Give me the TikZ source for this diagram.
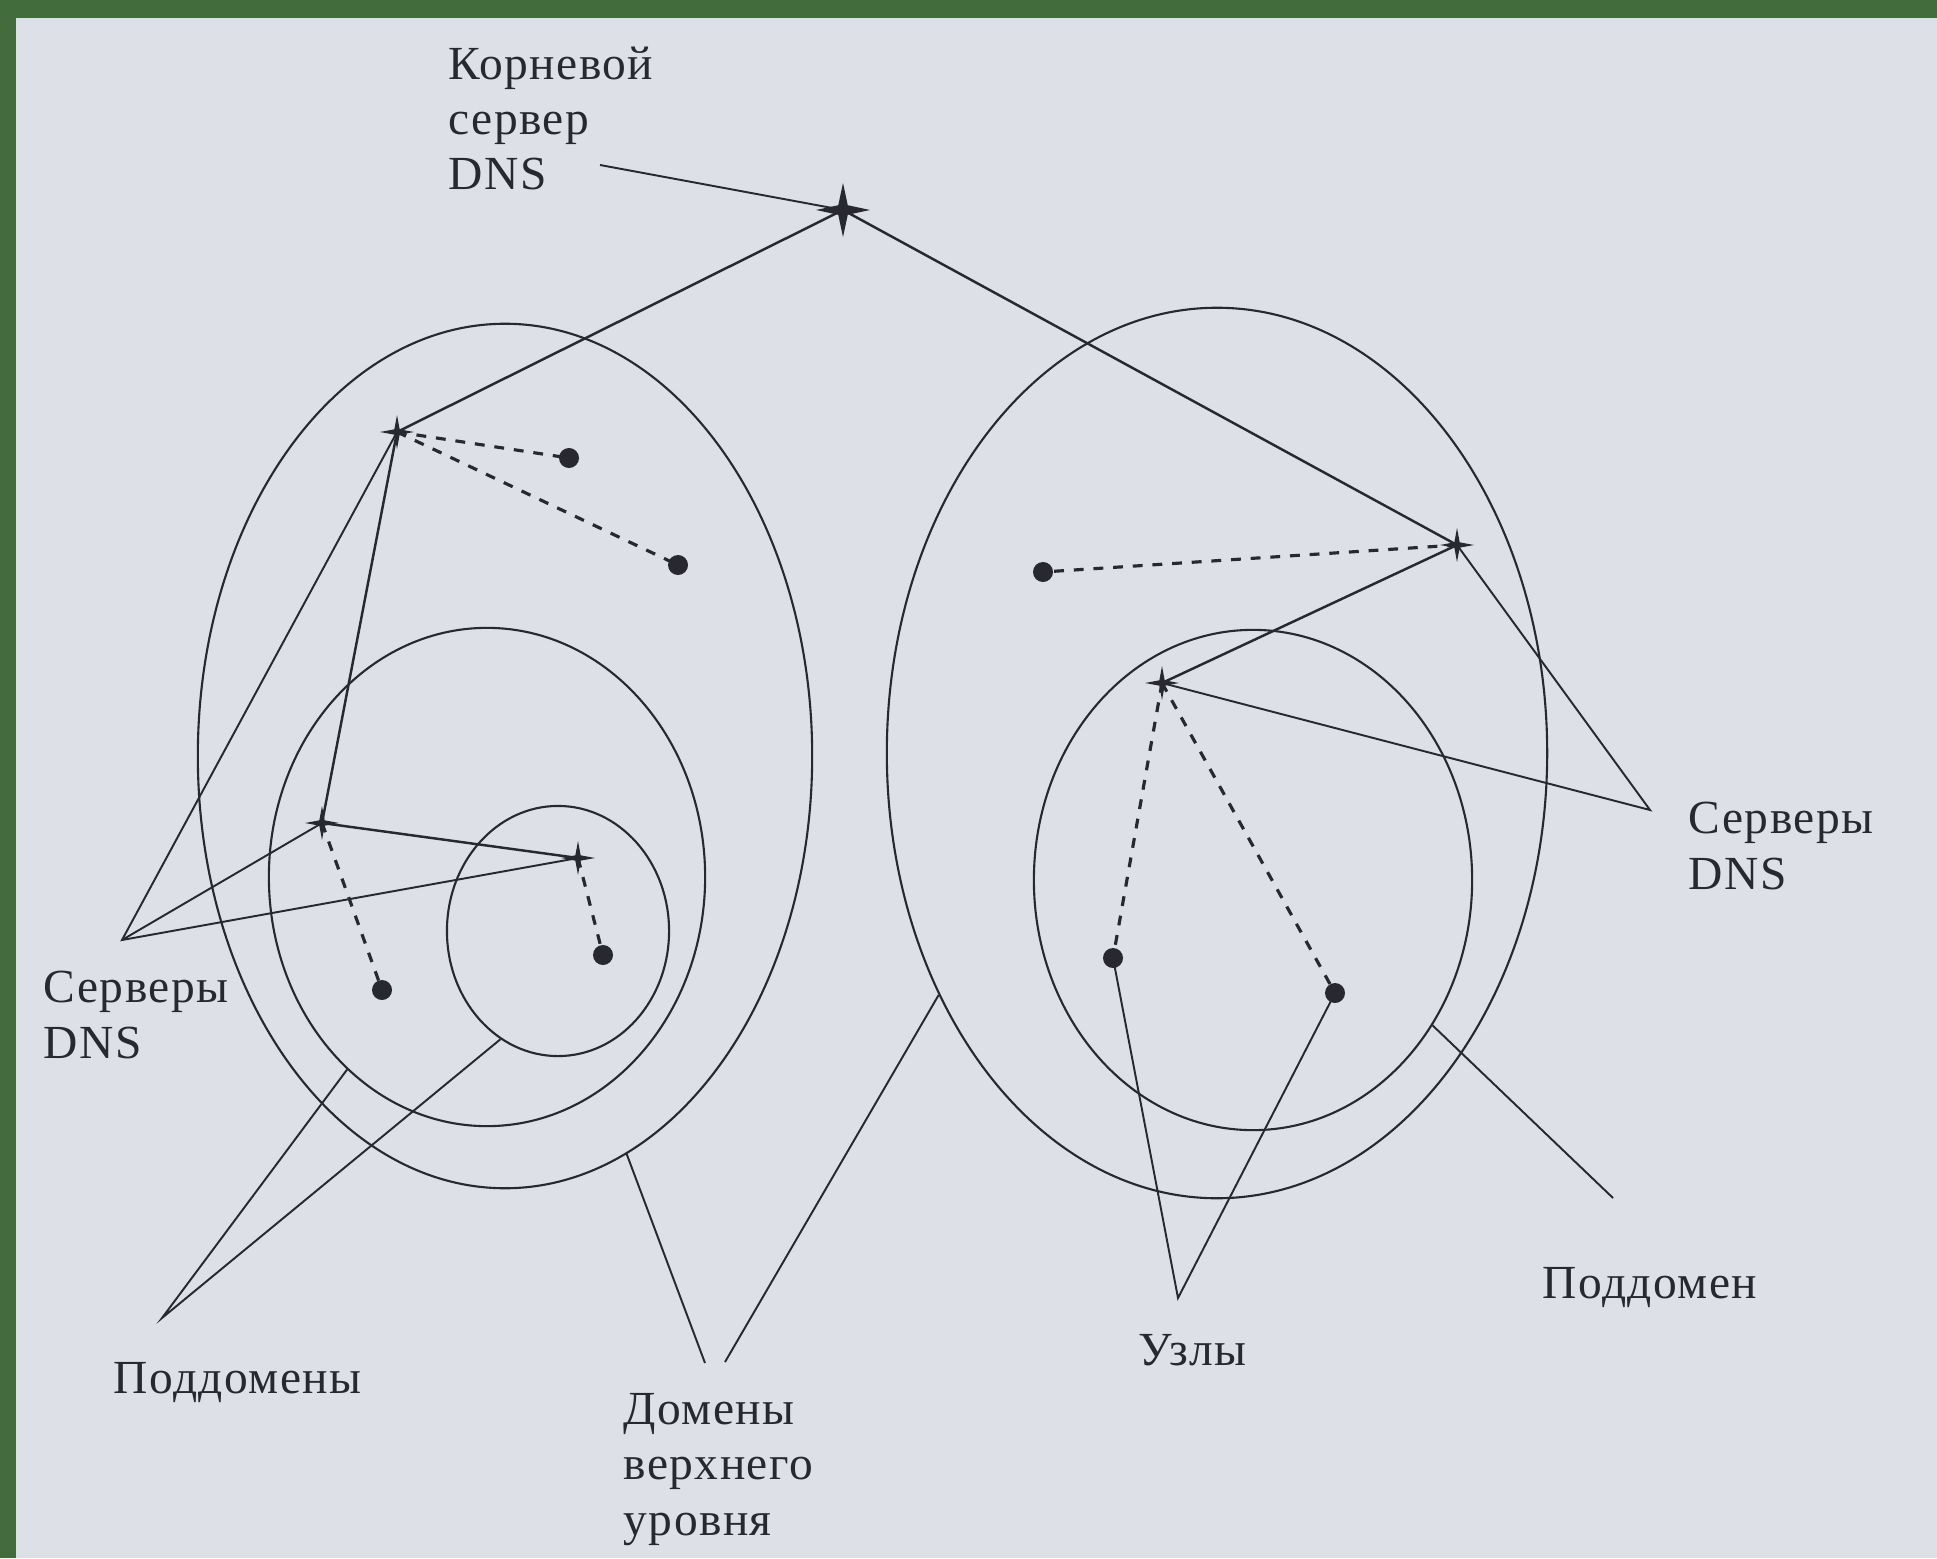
\documentclass[tikz,border=0pt]{standalone}
\usepackage{fontspec}
\setmainfont{Liberation Serif}
\newfontfamily\lblfont[LetterSpace=3]{Liberation Serif}
\usetikzlibrary{shapes.geometric}
\definecolor{bord}{RGB}{66,108,60}
\definecolor{paper}{RGB}{221,224,231}
\definecolor{ink}{RGB}{40,40,48}
\begin{document}
\begin{tikzpicture}[x=0.01cm,y=-0.01cm,
  lbl/.style={font=\lblfont\fontsize{13.5}{15.7}\selectfont, text=ink, inner sep=0pt, align=left, anchor=base west},
  srv/.style={star, star points=4, star point ratio=4.5, fill=ink, draw=none, inner sep=0pt, minimum size=0.34cm},
  rootsrv/.style={srv, star point ratio=4, minimum size=0.54cm},
  host/.style={circle, fill=ink, inner sep=0pt, minimum size=0.2cm},
  zone/.style={ellipse, draw=ink, line width=0.6pt, inner sep=0pt},
  link/.style={draw=ink, line width=0.7pt},
  dlink/.style={draw=ink, line width=0.9pt, dash pattern=on 2.8pt off 2.8pt},
  ptr/.style={draw=ink, line width=0.55pt}]
\fill[bord] (0,0) rectangle (1937,1558);
\fill[paper] (16,18) rectangle (1937,1558);
\useasboundingbox (0,0) rectangle (1937,1558);

% zones
\node[zone, minimum width=6.14cm, minimum height=8.64cm] (LB) at (505,756) {};
\node[zone, minimum width=4.36cm, minimum height=4.98cm] (LM) at (487,877) {};
\node[zone, minimum width=2.22cm, minimum height=2.50cm] (LS) at (558,931) {};
\node[zone, minimum width=6.60cm, minimum height=8.90cm] (RB) at (1217,753) {};
\node[zone, minimum width=4.38cm, minimum height=5.00cm] (RI) at (1253,880) {};

% servers
\node[rootsrv] (root) at (843,210) {};
\node[srv] (L1) at (397,432) {};
\node[srv] (L2) at (322,823) {};
\node[srv] (L3) at (578,858) {};
\node[srv] (R1) at (1457,545) {};
\node[srv] (R2) at (1162,683) {};

% hosts
\node[host] (h1) at (569,458) {};
\node[host] (h2) at (678,565) {};
\node[host] (h3) at (382,990) {};
\node[host] (h4) at (603,955) {};
\node[host] (h5) at (1043,572) {};
\node[host] (h6) at (1113,958) {};
\node[host] (h7) at (1335,993) {};

% labels (anchor = baseline of the last line)
\node[lbl] (tRoot) at (448,190) {Корневой\\сервер\\DNS};
\node[lbl] (tSrvL) at (43,1058) {Серверы\\DNS};
\node[lbl] (tSub) at (113,1393) {Поддомены};
\node[lbl] (tTop) at (623,1535) {Домены\\верхнего\\уровня};
\node[lbl] (tSrvR) at (1688,889) {Серверы\\DNS};
\node[lbl] (tHost) at (1138,1365) {Узлы};
\node[lbl] (tSub1) at (1542,1298) {Поддомен};

% pointer ends
\coordinate (pRoot) at (600,165);
\coordinate (pSrvL) at (122,940);
\coordinate (pSrvR) at (1650,810);
\coordinate (pSub) at (162,1318);
\coordinate (pTopA) at (705,1363);
\coordinate (pTopB) at (725,1362);
\coordinate (pHost) at (1178,1298);
\coordinate (pSub1) at (1613,1198);

% hierarchy links
\path[link] (root.center) -- (L1.center);
\path[link] (root.center) -- (R1.center);
\path[link] (L1.center) -- (L2.center);
\path[link] (L2.center) -- (L3.center);
\path[link] (R1.center) -- (R2.center);

% host links
\path[dlink] (L1.center) -- (h1.center);
\path[dlink] (L1.center) -- (h2.center);
\path[dlink] (L2.center) -- (h3.center);
\path[dlink] (L3.center) -- (h4.center);
\path[dlink] (R1.center) -- (h5.center);
\path[dlink] (R2.center) -- (h6.center);
\path[dlink] (R2.center) -- (h7.center);

% label pointers
\path[ptr] (pRoot) -- (root.center);
\path[ptr] (L1.center) -- (pSrvL) -- (L3.center);
\path[ptr] (pSrvL) -- (L2.center);
\path[ptr] (R1.center) -- (pSrvR) -- (R2.center);
\path[ptr] (LM.234) -- (pSub) -- (LS.242);
\path[ptr] (LB.287) -- (pTopA);
\path[ptr] (RB.221) -- (pTopB);
\path[ptr] (h6.center) -- (pHost) -- (h7.center);
\path[ptr] (RI.321) -- (pSub1);
\end{tikzpicture}
\end{document}
